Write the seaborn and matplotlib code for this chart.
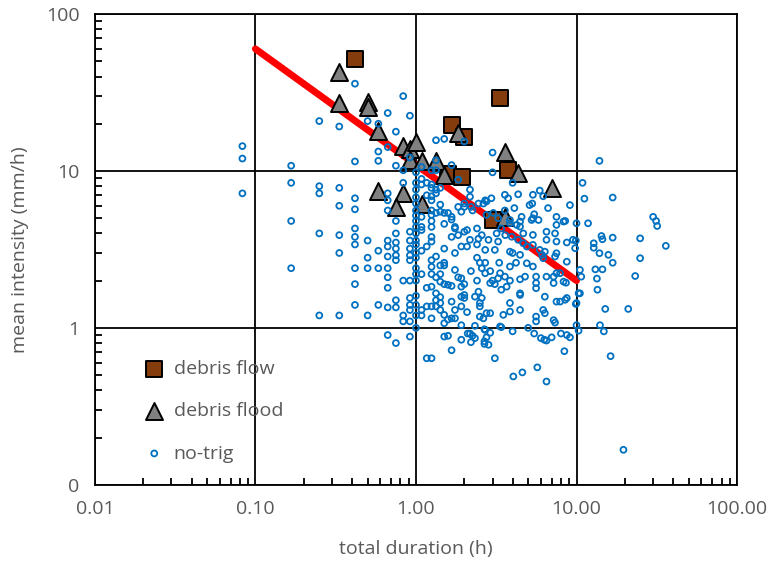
import matplotlib
matplotlib.use('Agg')
import matplotlib.pyplot as plt
import seaborn as sns
from matplotlib.ticker import FixedLocator, LogLocator, NullFormatter

# debris flow events (duration h, mean intensity mm/h)
df_dur = [0.417, 3.33, 1.67, 2.0, 3.75, 1.58, 1.93, 3.0]
df_int = [52.0, 29.0, 19.6, 16.5, 10.2, 9.6, 9.2, 4.9]

# debris flood events
dfl_dur = [0.333, 0.333, 0.5, 0.5, 0.583, 0.833, 0.917, 1.0, 0.917, 1.083, 1.333,
           1.5, 1.83, 3.58, 4.33, 7.0, 3.58, 1.083, 0.583, 0.833, 0.75]
dfl_int = [43.0, 27.0, 27.5, 25.5, 18.0, 14.4, 13.8, 15.4, 11.7, 11.5, 11.5,
           9.4, 17.4, 13.3, 9.7, 7.8, 5.1, 6.2, 7.4, 7.2, 5.9]

# non-triggering rainfall events
nt_dur = [0.083, 0.083, 0.083, 0.167, 0.167, 0.167, 0.167, 0.25, 0.25, 0.25, 0.25, 0.25,
          0.333, 0.333, 0.333, 0.333, 0.333, 0.333,
          0.417, 0.417, 0.417, 0.417, 0.417, 0.417, 0.417, 0.417, 0.417, 0.417,
          0.5, 0.5, 0.5, 0.5, 0.5,
          0.583, 0.583, 0.583, 0.583, 0.583, 0.583,
          0.667, 0.667, 0.667, 0.667, 0.667, 0.667, 0.667, 0.667, 0.667, 0.667, 0.667, 0.667, 0.667,
          0.75, 0.75, 0.75, 0.75, 0.75, 0.75, 0.75, 0.75, 0.75, 0.75, 0.75,
          0.833, 0.833, 0.833, 0.833, 0.833, 0.833,
          0.917, 0.917, 0.917, 0.917, 0.917, 0.917, 0.917, 0.917, 0.917, 0.917, 0.917, 0.917, 0.917,
          1.0, 1.0, 1.0, 1.0, 1.0, 1.0, 1.0, 1.0, 1.0, 1.0, 1.0, 1.0, 1.0, 1.0, 1.0, 1.0, 1.0, 1.0, 1.0, 1.0, 1.0,
          1.083, 1.083, 1.083, 1.083, 1.083, 1.083, 1.083, 1.083, 1.083, 1.083,
          1.167, 1.167, 1.167, 1.167, 1.167, 1.167,
          1.25, 1.25, 1.25, 1.25, 1.25, 1.25, 1.25, 1.25, 1.25, 1.25, 1.25, 1.25, 1.25, 1.25, 1.25, 1.25, 1.25, 1.25,
          1.333, 1.333, 1.333, 1.333, 1.333, 1.333, 1.333, 1.333, 1.333, 1.333, 1.333,
          1.417, 1.417, 1.417, 1.417, 1.417, 1.417, 1.417, 1.417, 1.417,
          1.5, 1.5, 1.5, 1.5, 1.5, 1.5, 1.5, 1.5, 1.5, 1.5,
          1.583, 1.583, 1.583, 1.583,
          1.667, 1.667, 1.667, 1.667, 1.667, 1.667, 1.667, 1.667,
          1.75, 1.75, 1.75, 1.75, 1.75, 1.75,
          1.833, 1.833, 1.833, 1.833,
          1.917, 1.917, 1.917, 1.917, 1.917, 1.917, 1.917, 1.917,
          2.0, 2.0, 2.0, 2.0, 2.0, 2.0, 2.0,
          2.08, 2.08, 2.08, 2.17, 2.17, 2.17, 2.17, 2.2, 2.25, 2.25, 2.2, 2.1,
          2.33, 2.33, 2.33, 2.4, 2.4, 2.4, 2.45, 2.45, 2.5, 2.5, 2.5, 2.5,
          2.57, 2.57, 2.63, 2.63, 2.7, 2.7, 2.7, 2.7, 2.67, 2.67, 2.67,
          2.75, 2.75, 2.75, 2.75, 2.83, 2.83, 2.9, 2.9, 2.9, 2.9, 2.95,
          3.0, 3.0, 3.03, 3.1, 3.1, 3.18, 3.25, 3.25, 3.25, 3.34, 3.34, 3.4, 3.4, 3.4, 3.5, 3.3,
          3.58, 3.58, 3.67, 3.75, 3.85, 3.85, 3.85, 3.85, 3.85, 3.85, 3.95, 4.0, 4.0, 4.04,
          4.24, 4.33, 4.45, 4.45, 4.45, 4.45, 4.45, 4.45, 4.55, 4.6, 4.66, 4.66, 4.78, 4.9, 4.9, 5.0, 5.1,
          5.25, 5.3, 5.35, 5.35, 5.35, 5.35, 5.35, 5.45, 5.45, 5.6, 5.6, 5.6, 5.6, 5.6, 5.7, 5.8, 5.9, 5.9, 6.0,
          6.1, 6.2, 6.2, 6.2, 6.3, 6.35, 6.35, 6.35, 6.5, 6.5, 6.5, 6.5, 6.5, 6.65, 7.0, 7.2, 7.2, 7.2,
          7.35, 7.35, 7.35, 7.5, 7.5, 7.5, 7.5, 7.5, 7.5, 7.9, 7.9, 8.0, 8.3, 8.3, 8.4, 8.5, 8.5, 8.6,
          8.7, 8.7, 8.7, 8.7, 9.1, 9.1, 9.5,
          9.8, 9.9, 9.9, 10.0, 10.0, 10.0, 10.3, 10.3, 10.5, 10.5, 10.7, 10.9, 11.2, 11.8,
          12.8, 12.8, 13.1, 13.4, 13.5, 13.9, 13.9, 14.0, 14.3, 14.5, 14.5, 14.8, 15.1, 15.8, 16.3,
          16.8, 16.8, 16.8,
          19.6, 21.0, 23.2, 24.9, 24.9, 30.0, 31.3, 31.8, 36.0,
          2.4, 2.7, 2.57, 3.0, 2.45, 2.2, 3.1, 3.58, 3.85, 4.2, 4.45, 4.0, 3.6, 4.1, 4.33]
nt_int = [14.4, 12.0, 7.2, 10.8, 8.4, 4.8, 2.4, 20.8, 8.0, 7.2, 4.0, 1.2,
          19.2, 7.8, 6.0, 3.9, 3.0, 1.2,
          36.0, 11.5, 6.7, 5.7, 4.3, 3.8, 3.4, 2.4, 1.9, 1.4,
          20.8, 3.6, 2.8, 2.4, 1.2,
          20.0, 13.3, 11.6, 3.1, 2.4, 1.4,
          23.4, 14.2, 7.2, 6.5, 5.6, 3.6, 3.3, 2.85, 2.4, 2.1, 1.8, 1.35, 0.9,
          17.8, 10.8, 4.8, 4.0, 3.5, 3.2, 2.9, 2.7, 1.5, 1.35, 0.8,
          30.0, 10.1, 8.4, 2.0, 1.2, 1.1,
          22.5, 12.2, 4.1, 3.6, 3.2, 2.9, 2.7, 2.0, 1.55, 1.4, 1.3, 1.1, 0.88,
          9.8, 8.4, 7.6, 6.8, 6.2, 5.6, 5.2, 4.8, 4.4, 4.0, 3.6, 3.4, 3.0, 2.8, 2.4, 2.2, 2.0, 1.6, 1.4, 1.2, 1.0,
          10.6, 8.9, 8.2, 5.1, 4.4, 4.2, 3.1, 2.2, 1.3, 1.2,
          8.4, 7.0, 3.3, 1.8, 1.37, 0.64,
          10.1, 8.2, 7.8, 6.9, 6.5, 5.6, 5.25, 4.8, 4.4, 3.8, 3.55, 2.7, 2.45, 2.2, 1.83, 1.37, 1.15, 0.64,
          15.7, 11.7, 10.1, 7.6, 7.2, 5.4, 2.85, 2.1, 1.66, 1.5, 1.37,
          7.8, 6.1, 5.5, 2.5, 2.2, 1.97, 1.57, 1.44, 1.3,
          16.0, 5.4, 4.6, 3.2, 2.6, 2.5, 1.9, 1.21, 1.07, 0.88,
          5.4, 1.88, 1.13, 0.89,
          10.9, 5.1, 4.9, 3.8, 1.85, 1.47, 1.15, 0.72,
          4.4, 4.3, 3.0, 2.34, 1.3, 1.15,
          8.8, 5.9, 3.9, 2.1,
          5.5, 3.3, 2.07, 1.83, 1.58, 1.37, 1.04, 0.84,
          15.4, 6.2, 5.9, 4.1, 1.9, 1.62, 1.55,
          4.2, 3.3, 1.26, 7.6, 6.85, 3.64, 0.92, 5.9, 5.6, 0.89, 0.81, 0.92,
          1.58, 1.03, 0.86, 4.3, 3.4, 2.0, 3.7, 6.2, 1.44, 1.18, 1.37, 2.6,
          3.9, 1.55, 6.2, 1.15, 6.5, 3.14, 2.23, 0.97, 0.98, 0.79, 0.82,
          6.4, 5.25, 1.24, 0.87, 3.64, 0.78, 2.3, 1.93, 1.24, 0.93, 6.7,
          13.1, 9.8, 5.4, 3.14, 0.64, 4.0, 5.0, 3.55, 2.07, 2.23, 1.02, 4.3, 1.75, 1.01, 1.21, 2.6,
          7.05, 5.6, 1.83, 6.7, 4.87, 4.64, 3.06, 2.46, 1.44, 1.27, 3.81, 8.4, 0.95, 0.49,
          4.53, 3.64, 4.76, 4.42, 2.92, 1.66, 1.62, 1.30, 5.1, 0.52, 4.0, 3.46, 2.12, 3.3, 2.58, 1.0, 6.06,
          4.87, 6.2, 7.05, 5.0, 3.91, 3.38, 2.46, 5.3, 0.92, 2.12, 1.93, 1.79, 1.18, 1.1, 0.56, 4.87, 7.5, 3.14, 0.86,
          2.92, 6.9, 2.78, 1.30, 0.84, 3.06, 1.58, 1.24, 3.64, 4.1, 2.12, 0.83, 0.455, 5.8, 0.87, 2.12, 1.93, 1.12,
          4.0, 2.85, 1.08, 5.1, 4.53, 3.55, 2.99, 2.23, 1.47, 2.23, 1.47, 0.92, 4.76, 1.97, 0.71, 4.8, 1.51, 1.94,
          3.5, 2.64, 1.55, 0.90, 6.06, 0.87, 3.64,
          3.22, 3.6, 1.42, 4.64, 1.44, 1.04, 1.66, 0.96, 2.34, 1.66, 2.12, 8.4, 6.66, 4.64,
          3.46, 3.24, 2.36, 2.06, 1.75, 11.6, 2.99, 1.04, 3.85, 3.67, 2.36, 0.95, 1.32, 2.92, 0.66,
          6.77, 3.76, 2.6,
          0.167, 1.32, 2.14, 3.72, 2.78, 5.1, 4.8, 4.46, 3.33,
          2.8, 2.6, 2.4, 2.0, 1.7, 2.3, 1.9, 2.12, 2.0, 2.6, 2.04, 3.0, 3.9, 5.8, 7.1]

# threshold line end points
line_dur = [0.1, 10.0]
line_int = [60.0, 2.0]

x_ticks = [0.01, 0.1, 1, 10, 100]
x_labels = ['0.01', '0.10', '1.00', '10.00', '100.00']
y_ticks = [0.1, 1, 10, 100]
y_labels = ['0', '1', '10', '100']

sns.set_style('white')
plt.rcParams['font.family'] = ['Open Sans', 'DejaVu Sans']
grey = '#595959'

fig, ax = plt.subplots(figsize=(7.71, 5.63), dpi=100)
fig.subplots_adjust(left=0.123, right=0.956, bottom=0.139, top=0.975)

sns.lineplot(x=line_dur, y=line_int, color='#FF0000', linewidth=5, ax=ax, zorder=1)
sns.scatterplot(x=df_dur, y=df_int, marker='s', s=130, color='#843C0C', edgecolor='black',
                linewidth=1.4, label='debris flow', zorder=3, ax=ax)
sns.scatterplot(x=dfl_dur, y=dfl_int, marker='^', s=150, color='#808080', edgecolor='black',
                linewidth=1.4, label='debris flood', zorder=4, ax=ax)
sns.scatterplot(x=nt_dur, y=nt_int, marker='o', s=18, facecolor='none', edgecolor='#0070C0',
                linewidth=1.3, label='no-trig', zorder=5, ax=ax)

ax.set_xscale('log')
ax.set_yscale('log')
ax.set_xlim(0.01, 100)
ax.set_ylim(0.1, 100)
ax.xaxis.set_major_locator(FixedLocator(x_ticks))
ax.set_xticklabels(x_labels)
ax.yaxis.set_major_locator(FixedLocator(y_ticks))
ax.set_yticklabels(y_labels)
ax.xaxis.set_minor_locator(LogLocator(base=10, subs=range(2, 10)))
ax.yaxis.set_minor_locator(LogLocator(base=10, subs=range(2, 10)))
ax.xaxis.set_minor_formatter(NullFormatter())
ax.yaxis.set_minor_formatter(NullFormatter())

ax.grid(True, which='major', color='black', linewidth=1.3)
ax.set_axisbelow(True)
ax.tick_params(which='major', length=0, labelsize=14, labelcolor=grey, pad=11)
ax.tick_params(which='minor', direction='in', length=5, width=1.3, color='black',
               bottom=True, left=True, top=False, right=False)
for sp in ax.spines.values():
    sp.set_color('black')
    sp.set_linewidth(1.3)

ax.set_xlabel('total duration (h)', fontsize=14, color=grey, labelpad=16)
ax.set_ylabel('mean intensity (mm/h)', fontsize=14, color=grey, labelpad=12)

ax.legend(loc='lower left', bbox_to_anchor=(0.035, 0.01), frameon=False, fontsize=14,
          labelspacing=1.25, handletextpad=0.0, labelcolor=grey)

plt.savefig('out.png', dpi=100)
